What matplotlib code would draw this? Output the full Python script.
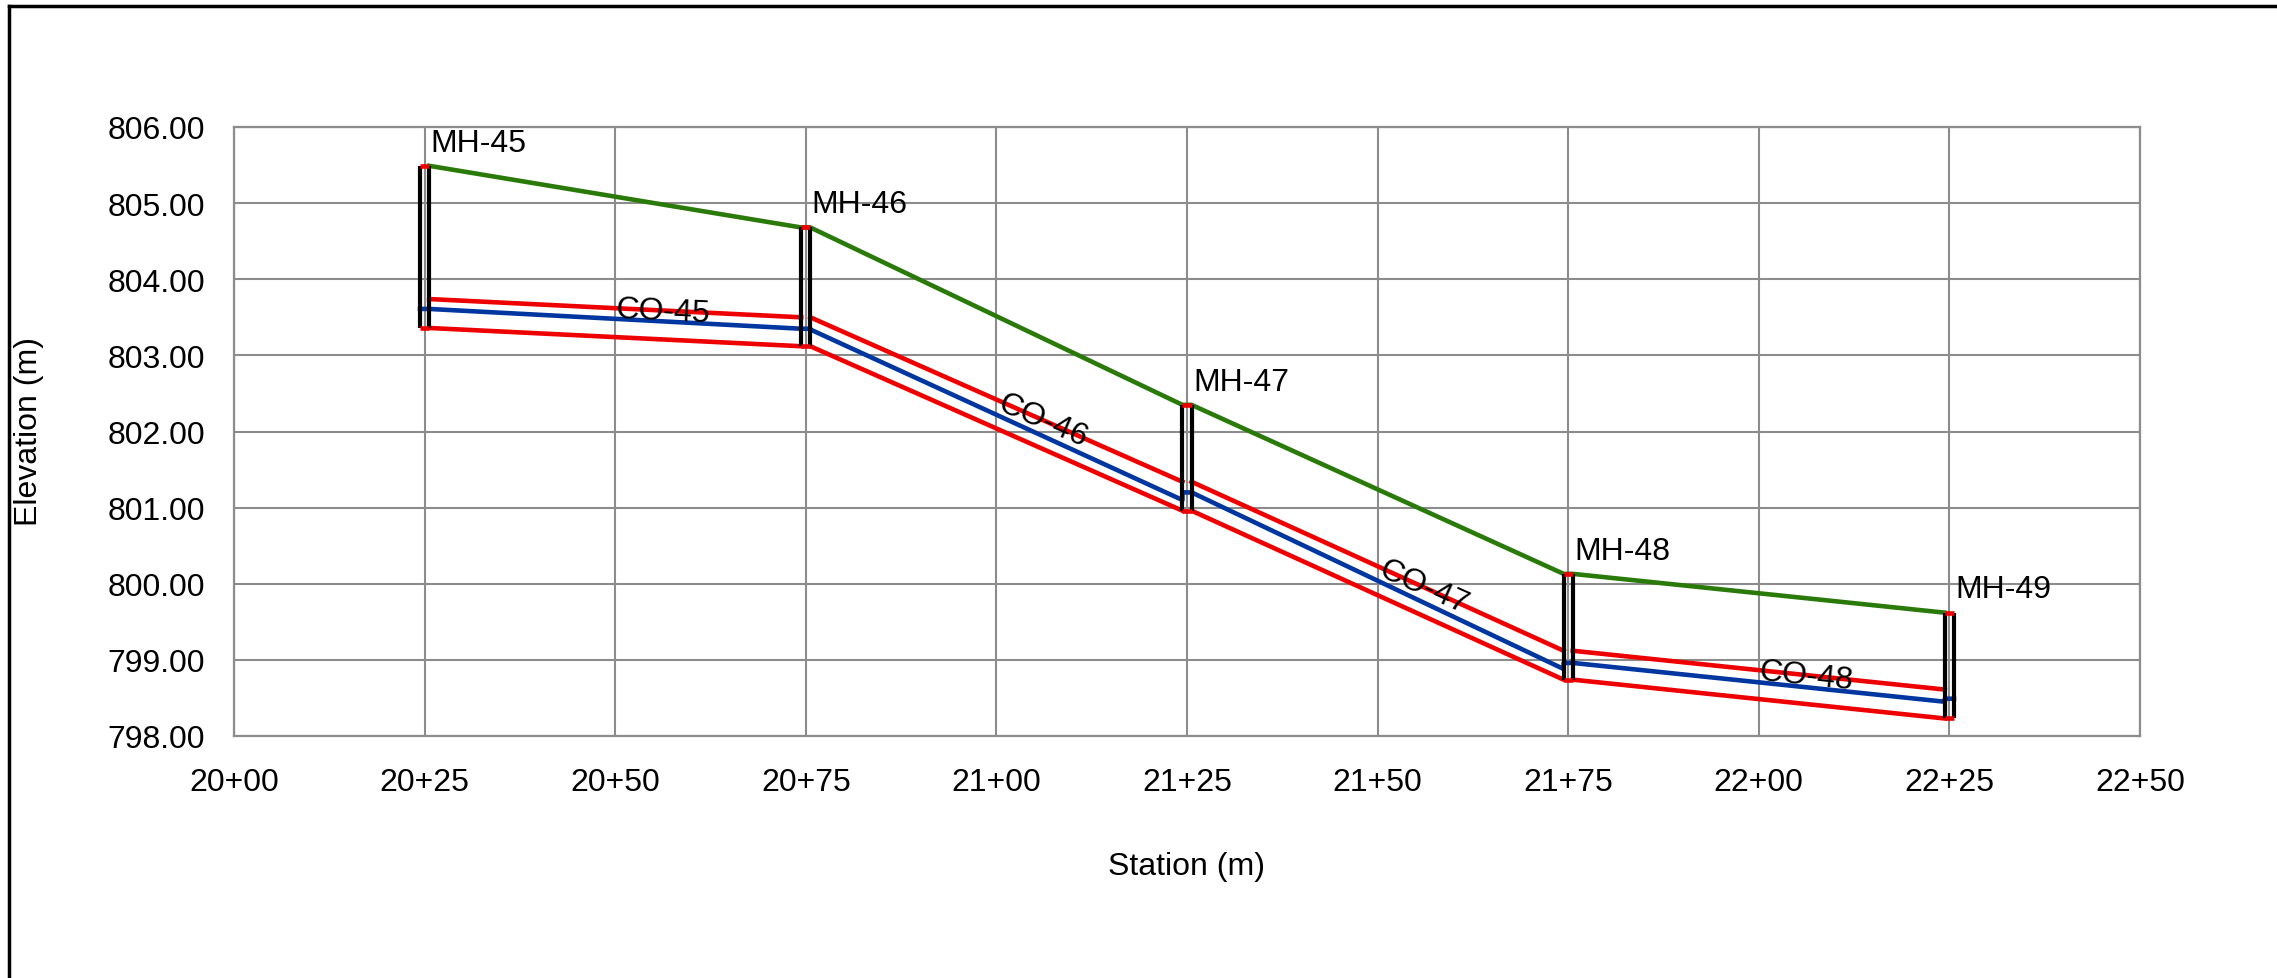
import numpy as np
import matplotlib
matplotlib.use("Agg")
import matplotlib.pyplot as plt
from matplotlib.lines import Line2D

plt.rcParams['font.family'] = ['Liberation Sans', 'DejaVu Sans']

# manholes
mh_names = ['MH-45', 'MH-46', 'MH-47', 'MH-48', 'MH-49']
mh_sta = [2025, 2075, 2125, 2175, 2225]
mh_rim = [805.49, 804.68, 802.35, 800.13, 799.62]
mh_sump = [803.36, 803.12, 800.96, 798.74, 798.23]
mh_hgl = [803.61, 803.35, 801.20, 798.96, 798.49]

# pipes between manholes
pipe_names = ['CO-45', 'CO-46', 'CO-47', 'CO-48']
pipe_inv_up = [803.36, 803.12, 800.96, 798.74]
pipe_inv_dn = [803.12, 800.96, 798.74, 798.23]
pipe_dia = [0.38, 0.38, 0.38, 0.38]
pipe_hgl_up = [803.61, 803.34, 801.20, 798.96]
pipe_hgl_dn = [803.35, 801.10, 798.88, 798.45]

x_ticks = [2000, 2025, 2050, 2075, 2100, 2125, 2150, 2175, 2200, 2225, 2250]
y_ticks = [798, 799, 800, 801, 802, 803, 804, 805, 806]

RED = '#ee0000'
GREEN = '#2a7a0a'
BLUE = '#0036a0'
GRID = '#8c8c8c'
w = 1.2  # manhole width (m)
fs = 23
lw = 3.3

fig = plt.figure(figsize=(22.77, 9.79), dpi=100)
ax = fig.add_axes([234 / 2277, 242 / 979, 1906 / 2277, 609 / 979])

# ground line (rims)
gx, gy = [], []
for s, r in zip(mh_sta, mh_rim):
    gx += [s - w / 2, s + w / 2]
    gy += [r, r]
ax.plot(gx[1:-1], gy[1:-1], color=GREEN, lw=lw, zorder=3)

# pipe crown and invert
for i in range(len(pipe_names)):
    x0 = mh_sta[i] + w / 2
    x1 = mh_sta[i + 1] - w / 2
    ax.plot([x0, x1], [pipe_inv_up[i] + pipe_dia[i], pipe_inv_dn[i] + pipe_dia[i]],
            color=RED, lw=lw, zorder=3)
    ax.plot([x0, x1], [pipe_inv_up[i], pipe_inv_dn[i]], color=RED, lw=lw, zorder=3)

# hydraulic grade line
hx, hy = [], []
for i, s in enumerate(mh_sta):
    if i > 0:
        hx.append(s - w / 2)
        hy.append(pipe_hgl_dn[i - 1])
    hx += [s - w / 2, s + w / 2]
    hy += [mh_hgl[i], mh_hgl[i]]
    if i < len(pipe_names):
        hx.append(s + w / 2)
        hy.append(pipe_hgl_up[i])
ax.plot(hx, hy, color=BLUE, lw=lw, zorder=4)

# manhole structures
for name, s, r, b in zip(mh_names, mh_sta, mh_rim, mh_sump):
    ax.plot([s - w / 2, s - w / 2], [b, r], color='black', lw=3.0, zorder=5,
            solid_capstyle='butt')
    ax.plot([s + w / 2, s + w / 2], [b, r], color='black', lw=3.0, zorder=5,
            solid_capstyle='butt')
    ax.plot([s - w / 2, s + w / 2], [r, r], color=RED, lw=lw, zorder=6,
            solid_capstyle='butt')
    ax.plot([s - w / 2, s + w / 2], [b, b], color=RED, lw=lw, zorder=6,
            solid_capstyle='butt')
    ax.annotate(name, (s + w / 2, r), xytext=(1, 11), textcoords='offset points',
                ha='left', va='baseline', fontsize=fs, zorder=7)

# pipe labels along the pipe
for i, name in enumerate(pipe_names):
    xm = (mh_sta[i] + mh_sta[i + 1]) / 2
    ym = (pipe_inv_up[i] + pipe_inv_dn[i]) / 2 + pipe_dia[i] / 2 + 0.07
    ang = np.degrees(np.arctan2(pipe_inv_dn[i] - pipe_inv_up[i],
                                mh_sta[i + 1] - mh_sta[i]))
    ax.text(xm, ym, name, fontsize=fs, ha='left', va='baseline', rotation=ang,
            rotation_mode='anchor', transform_rotates_text=True, zorder=7)

ax.set_xlim(2000, 2250)
ax.set_ylim(798, 806)
ax.set_xticks(x_ticks)
ax.set_xticklabels(['%d+%02d' % (t // 100, t % 100) for t in x_ticks])
ax.set_yticks(y_ticks)
ax.set_yticklabels(['%.2f' % t for t in y_ticks])
ax.tick_params(length=0, labelsize=fs)
ax.tick_params(axis='x', pad=22)
ax.tick_params(axis='y', pad=21)
ax.grid(True, color=GRID, lw=1.5, zorder=0)
ax.set_axisbelow(True)
for sp in ax.spines.values():
    sp.set_color(GRID)
    sp.set_linewidth(1.6)

fig.text(29 / 2277, 1 - 431 / 979, 'Elevation (m)', rotation=90, ha='center',
         va='center', fontsize=fs)
fig.text(1186 / 2277, 1 - 867 / 979, 'Station (m)', ha='center', va='center',
         fontsize=fs)

# outer frame (top and left edges visible)
fig.add_artist(Line2D([9 / 2277, 9 / 2277], [0, 1 - 7 / 979], color='black',
                      lw=2.5, transform=fig.transFigure))
fig.add_artist(Line2D([9 / 2277, 1], [1 - 7 / 979, 1 - 7 / 979], color='black',
                      lw=2.5, transform=fig.transFigure))

fig.savefig('out.png', dpi=100)
